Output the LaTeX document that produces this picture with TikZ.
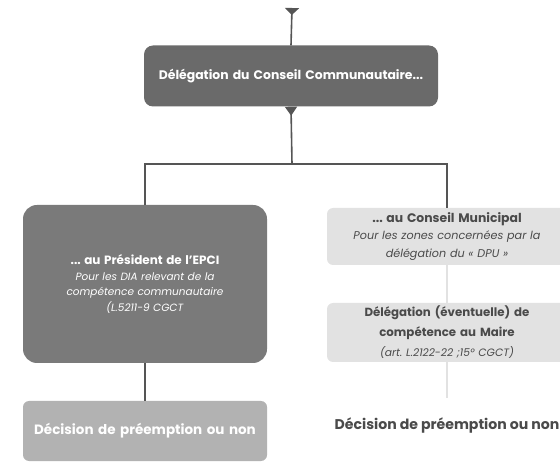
\documentclass[tikz,border=0pt]{standalone}
\usepackage{fontspec}
\setmainfont{Poppins}
\usetikzlibrary{arrows.meta}
\definecolor{foncé}{HTML}{6A6A6A}
\definecolor{moyen}{HTML}{7A7A7A}
\definecolor{clair}{HTML}{B2B2B2}
\definecolor{pale}{HTML}{E2E2E2}
\definecolor{trait}{HTML}{555555}
\definecolor{texte}{HTML}{4A4A4A}
\frenchspacing
\begin{document}
\begin{tikzpicture}[x=1pt, y=-1pt,
        boite/.style={rounded corners=9pt, align=center, inner sep=0pt, text width=#1},
        lien/.style={draw=trait, line width=1.6pt},
        pointe/.style={{Triangle[reversed, width=14pt, length=7pt]}-}]
        \useasboundingbox (0,0) rectangle (560,462);
        \coordinate (haut) at (292,8);
        \coordinate (jonction) at (292,164);
        \node[boite=294pt, fill=foncé, minimum height=61pt, text=white, font=\bfseries\fontsize{12.4}{14}\selectfont] (conseil) at (291,76) {Délégation du Conseil Communautaire...};
        \node[boite=244pt, fill=moyen, minimum height=158pt, rounded corners=14pt, text=white, font=\fontsize{10.5}{15.5}\selectfont] (president) at (145,284) {{\bfseries\fontsize{12}{15.5}\selectfont ... au Président de l'EPCI}\\ \textit{Pour les DIA relevant de la}\\ \textit{compétence communautaire}\\ \textit{(L.5211-9 CGCT}};
        \node[boite=244pt, fill=clair, minimum height=60pt, rounded corners=6pt, text=white, font=\bfseries\fontsize{13.5}{14}\selectfont] (decision1) at (145,431) {Décision de préemption ou non};
        \node[boite=240pt, fill=pale, minimum height=57pt, rounded corners=6pt, text=texte, font=\fontsize{11.2}{17.5}\selectfont] (municipal) at (447,236.5) {{\bfseries\fontsize{12.4}{17.5}\selectfont ... au Conseil Municipal}\\ \textit{Pour les zones concernées par la}\\ \textit{délégation du « DPU »}};
        \node[boite=240pt, fill=pale, minimum height=59pt, rounded corners=6pt, text=texte, font=\fontsize{11.8}{20}\selectfont] (maire) at (447,332.5) {\textbf{Délégation (éventuelle) de}\\ \textbf{compétence au Maire}\\ {\itshape\fontsize{10.7}{20}\selectfont (art. L.2122-22 ;15° CGCT)}};
        \node[text=texte, font=\bfseries\fontsize{14.1}{16}\selectfont] (decision2) at (447,425) {Décision de préemption ou non};
        \draw[lien, pointe] (haut) -- (conseil.north);
        \draw[lien, {Triangle[reversed, width=12pt, length=9pt]}-] (conseil.south) -- (jonction);
        \draw[lien] (jonction) -| (president.north);
        \draw[lien] (jonction) -| (municipal.north);
        \draw[lien] (president.south) -- (decision1.north);
        \draw[draw=pale, line width=1.6pt] (municipal.south) -- (maire.north);
        \draw[draw=pale, line width=1.6pt] (maire.south) -- ++(0,36);
\end{tikzpicture}
\end{document}
